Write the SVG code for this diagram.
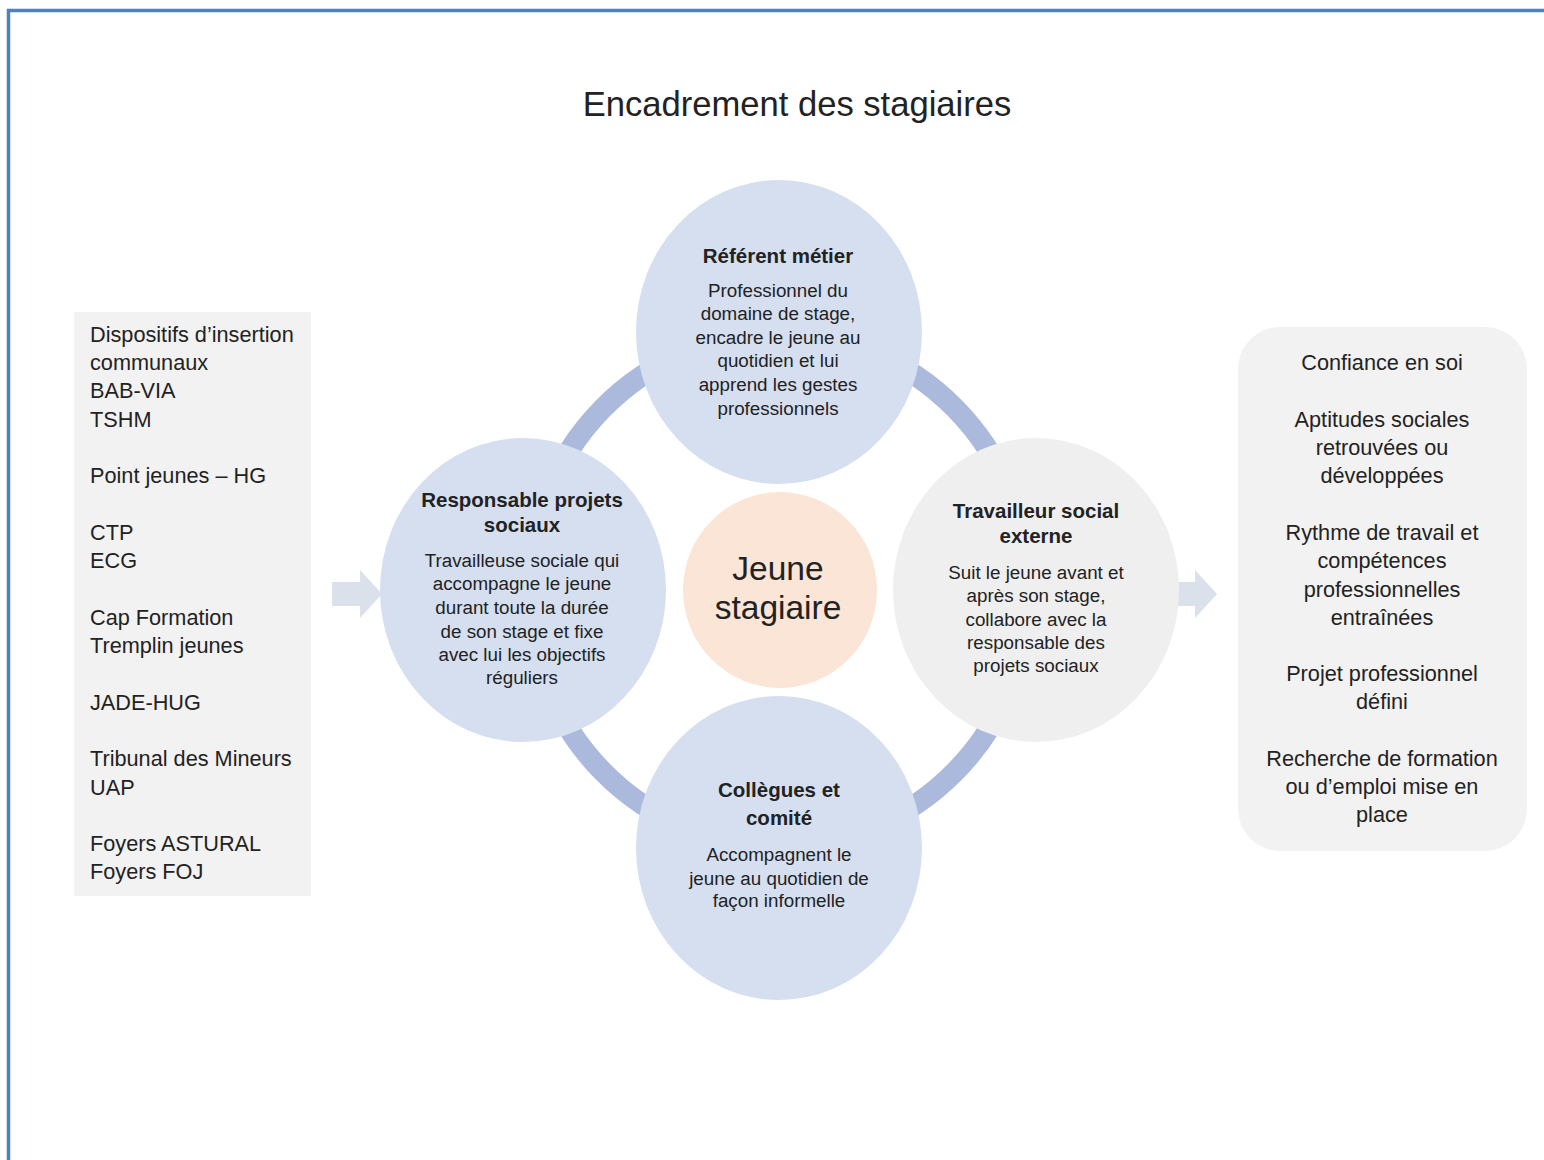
<svg xmlns="http://www.w3.org/2000/svg" width="1544" height="1160" viewBox="0 0 1544 1160">
<style>
text{font-family:"Liberation Sans",Arial,sans-serif;fill:#222;}
.list{font-size:21.7px;}
.res{font-size:21.7px;text-anchor:middle;}
.ttl{font-size:20.5px;font-weight:bold;text-anchor:middle;}
.body{font-size:18.8px;text-anchor:middle;}
.blue{fill:#d5dff0;}
.arrow{fill:#dae1eb;}
</style>
<rect x="0" y="0" width="1544" height="1160" fill="#fff"/>
<rect x="8.5" y="10.5" width="1600" height="1200" fill="none" stroke="#4f81bd" stroke-width="3.5"/>
<text x="797" y="116" style="font-size:34.6px;text-anchor:middle">Encadrement des stagiaires</text>

<g id="sources">
<rect x="74" y="312" width="237" height="584" fill="#f2f2f2"/>
<text class="list" x="90" y="342">Dispositifs d’insertion</text>
<text class="list" x="90" y="370">communaux</text>
<text class="list" x="90" y="398">BAB-VIA</text>
<text class="list" x="90" y="427">TSHM</text>
<text class="list" x="90" y="483">Point jeunes – HG</text>
<text class="list" x="90" y="540">CTP</text>
<text class="list" x="90" y="568">ECG</text>
<text class="list" x="90" y="625">Cap Formation</text>
<text class="list" x="90" y="653">Tremplin jeunes</text>
<text class="list" x="90" y="710">JADE-HUG</text>
<text class="list" x="90" y="766">Tribunal des Mineurs</text>
<text class="list" x="90" y="795">UAP</text>
<text class="list" x="90" y="851">Foyers ASTURAL</text>
<text class="list" x="90" y="879">Foyers FOJ</text>
</g>

<g id="results">
<rect x="1238" y="327" width="289" height="524" rx="42" fill="#f2f2f2"/>
<text class="res" x="1382" y="370">Confiance en soi</text>
<text class="res" x="1382" y="427">Aptitudes sociales</text>
<text class="res" x="1382" y="455">retrouvées ou</text>
<text class="res" x="1382" y="483">développées</text>
<text class="res" x="1382" y="540">Rythme de travail et</text>
<text class="res" x="1382" y="568">compétences</text>
<text class="res" x="1382" y="597">professionnelles</text>
<text class="res" x="1382" y="625">entraînées</text>
<text class="res" x="1382" y="681">Projet professionnel</text>
<text class="res" x="1382" y="709">défini</text>
<text class="res" x="1382" y="766">Recherche de formation</text>
<text class="res" x="1382" y="794">ou d’emploi mise en</text>
<text class="res" x="1382" y="822">place</text>
</g>

<g id="connectors">
<ellipse cx="779" cy="590" rx="250" ry="256" fill="none" stroke="#aab9dc" stroke-width="21"/>
<polygon class="arrow" points="332,582 360,582 360,570 382,594 360,618 360,606 332,606"/>
<polygon class="arrow" points="1163,582 1195,582 1195,570 1217,594 1195,618 1195,606 1163,606"/>
</g>

<g id="referent">
<ellipse class="blue" cx="779" cy="332" rx="143" ry="152"/>
<text class="ttl" x="778" y="263">Référent métier</text>
<text class="body" x="778" y="297">Professionnel du</text>
<text class="body" x="778" y="320">domaine de stage,</text>
<text class="body" x="778" y="344">encadre le jeune au</text>
<text class="body" x="778" y="367">quotidien et lui</text>
<text class="body" x="778" y="391">apprend les gestes</text>
<text class="body" x="778" y="415">professionnels</text>
</g>

<g id="responsable">
<ellipse class="blue" cx="523" cy="590" rx="143" ry="152"/>
<text class="ttl" x="522" y="507">Responsable projets</text>
<text class="ttl" x="522" y="532">sociaux</text>
<text class="body" x="522" y="567">Travailleuse sociale qui</text>
<text class="body" x="522" y="590">accompagne le jeune</text>
<text class="body" x="522" y="614">durant toute la durée</text>
<text class="body" x="522" y="638">de son stage et fixe</text>
<text class="body" x="522" y="661">avec lui les objectifs</text>
<text class="body" x="522" y="684">réguliers</text>
</g>

<g id="travailleur">
<ellipse cx="1036" cy="590" rx="143" ry="152" fill="#efefef"/>
<text class="ttl" x="1036" y="518">Travailleur social</text>
<text class="ttl" x="1036" y="543">externe</text>
<text class="body" x="1036" y="579">Suit le jeune avant et</text>
<text class="body" x="1036" y="602">après son stage,</text>
<text class="body" x="1036" y="626">collabore avec la</text>
<text class="body" x="1036" y="649">responsable des</text>
<text class="body" x="1036" y="672">projets sociaux</text>
</g>

<g id="collegues">
<ellipse class="blue" cx="779" cy="848" rx="143" ry="152"/>
<text class="ttl" x="779" y="797">Collègues et</text>
<text class="ttl" x="779" y="825">comité</text>
<text class="body" x="779" y="861">Accompagnent le</text>
<text class="body" x="779" y="885">jeune au quotidien de</text>
<text class="body" x="779" y="907">façon informelle</text>
</g>

<g id="jeune">
<ellipse cx="780" cy="590" rx="97" ry="98" fill="#fbe5d6"/>
<text x="778" y="580" style="font-size:33.5px;text-anchor:middle">Jeune</text>
<text x="778" y="619" style="font-size:33.5px;text-anchor:middle">stagiaire</text>
</g>
</svg>
